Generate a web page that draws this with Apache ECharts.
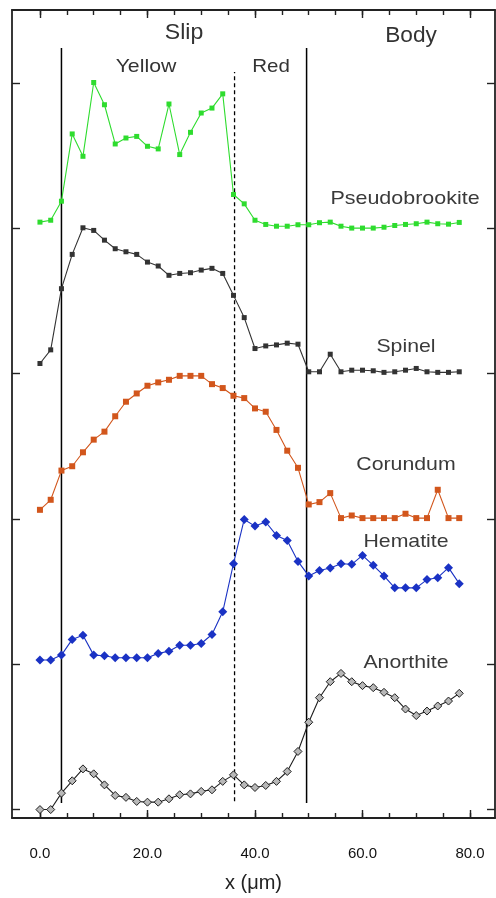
<!DOCTYPE html>
<html>
<head>
<meta charset="utf-8">
<script src="https://cdn.jsdelivr.net/npm/echarts@6/dist/echarts.min.js"></script>
<style>
html,body{margin:0;padding:0;background:#fff;}
#chart{width:496px;height:898px;}
</style>
</head>
<body>
<div id="chart"></div>
<script>
// position along the profile (µm)
const xPos = [0,2,4,6,8,10,12,14,16,18,20,22,24,26,28,30,32,34,36,38,40,42,44,46,48,50,52,54,56,58,60,62,64,66,68,70,72,74,76,78];

// offset (stacked) intensities, in units of y-tick spacing
const pseudobrookite = [4.043,4.056,4.187,4.650,4.496,5.004,4.851,4.581,4.622,4.633,4.565,4.547,4.856,4.508,4.661,4.794,4.828,4.926,4.233,4.169,4.056,4.027,4.015,4.015,4.025,4.025,4.039,4.043,4.015,4.002,4.002,4.002,4.008,4.020,4.027,4.032,4.043,4.032,4.029,4.041];
const spinel = [3.070,3.164,3.585,3.821,4.004,3.986,3.919,3.860,3.839,3.821,3.768,3.741,3.677,3.690,3.695,3.713,3.725,3.690,3.539,3.386,3.173,3.191,3.198,3.210,3.203,3.013,3.013,3.134,3.013,3.024,3.024,3.020,3.009,3.013,3.024,3.036,3.013,3.009,3.009,3.013];
const corundum = [2.063,2.132,2.333,2.363,2.459,2.546,2.601,2.707,2.807,2.864,2.917,2.940,2.958,2.985,2.985,2.985,2.928,2.901,2.848,2.832,2.761,2.738,2.613,2.470,2.352,2.100,2.116,2.178,2.006,2.024,2.006,2.006,2.006,2.006,2.036,2.006,2.006,2.201,2.006,2.006];
const hematite = [1.029,1.029,1.063,1.171,1.200,1.063,1.059,1.045,1.045,1.045,1.045,1.075,1.090,1.131,1.131,1.143,1.205,1.361,1.692,1.997,1.951,1.979,1.887,1.852,1.708,1.608,1.646,1.663,1.692,1.688,1.749,1.681,1.608,1.526,1.526,1.526,1.583,1.596,1.665,1.555];
const anorthite = [0.000,0.000,0.113,0.198,0.280,0.246,0.170,0.097,0.084,0.056,0.051,0.051,0.074,0.102,0.108,0.125,0.136,0.194,0.239,0.170,0.152,0.166,0.194,0.262,0.400,0.601,0.770,0.880,0.937,0.880,0.853,0.839,0.807,0.770,0.692,0.647,0.678,0.713,0.747,0.800];

// region boundaries (µm) and their vertical extent (y units)
const boundarySolid = [4, 49.6];
const boundaryDashed = [36.2];
const boundaryExtentSolid = [0.045, 5.242];
const boundaryExtentDashed = [0.058, 5.077];

// tick labels
const xMajorTicks = [0, 20, 40, 60, 80];
const xMinorTicks = [0,5,10,15,20,25,30,35,40,45,50,55,60,65,70,75,80];
const yTicks = [0, 1, 2, 3, 4, 5];
const xLabelText = ['0.0', '20.0', '40.0', '60.0', '80.0'];

const FONT = "'Liberation Sans', Arial, sans-serif";
const chart = echarts.init(document.getElementById('chart'), null, {renderer: 'canvas'});

function zip(xs, ys){ return xs.map((x, i) => [x, ys[i]]); }

const X_MIN = -5.2, X_MAX = 84.65, Y_MIN = -0.058, Y_MAX = 5.503;
const axisLineStyle = {color: '#222', width: 1.8};

function xAxisDef(pos, ticks, len, showLine, showLabel){
  return {
    type: 'value', position: pos, min: X_MIN, max: X_MAX,
    axisLine: {show: showLine, onZero: false, lineStyle: axisLineStyle},
    axisTick: {show: true, inside: true, length: len, customValues: ticks, lineStyle: {color: '#222', width: 1.4}},
    axisLabel: showLabel ? {
      show: true, customValues: xMajorTicks, margin: 28,
      formatter: v => xLabelText[xMajorTicks.indexOf(v)] || '',
      fontFamily: FONT, fontSize: 15, color: '#111'
    } : {show: false},
    splitLine: {show: false},
    name: showLabel ? 'x (\u03bcm)' : '',
    nameLocation: 'middle', nameGap: 55,
    nameTextStyle: {fontFamily: FONT, fontSize: 20, color: '#222'}
  };
}
function yAxisDef(pos){
  return {
    type: 'value', position: pos, min: Y_MIN, max: Y_MAX,
    axisLine: {show: true, onZero: false, lineStyle: axisLineStyle},
    axisTick: {show: true, inside: true, length: 8, customValues: yTicks, lineStyle: {color: '#222', width: 1.4}},
    axisLabel: {show: false},
    splitLine: {show: false}
  };
}

function dataSeries(name, vals, color, symbol, size, fill){
  return {
    name, type: 'line', xAxisIndex: 0, yAxisIndex: 0,
    data: zip(xPos, vals),
    symbol, symbolSize: size, showAllSymbol: true,
    lineStyle: {color, width: 1.1},
    itemStyle: {color: fill || color, borderColor: color, borderWidth: fill ? 1 : 0},
    animation: false, z: 5
  };
}

function boundarySeries(x, ext, dashed){
  return {
    type: 'line', xAxisIndex: 0, yAxisIndex: 0,
    data: [[x, ext[0]], [x, ext[1]]],
    symbol: 'none',
    lineStyle: {color: '#000', width: dashed ? 1.3 : 1.5, type: dashed ? [4, 3] : 'solid'},
    animation: false, z: 3, silent: true
  };
}

function txt(x, y, text, size, color, sx){
  return {type: 'text', x, y, scaleX: sx, style: {text, font: size + 'px ' + FONT, fill: color, align: 'center', verticalAlign: 'middle'}};
}

chart.setOption({
  backgroundColor: '#fff',
  animation: false,
  grid: {left: 12, right: 1, top: 10, bottom: 78, containLabel: false},
  xAxis: [
    xAxisDef('bottom', xMinorTicks, 5, true, true),
    xAxisDef('bottom', xMajorTicks, 8, false, false),
    xAxisDef('top', xMinorTicks, 5, true, false),
    xAxisDef('top', xMajorTicks, 8, false, false)
  ],
  yAxis: [yAxisDef('left'), yAxisDef('right')],
  series: [
    boundarySeries(boundarySolid[0], boundaryExtentSolid, false),
    boundarySeries(boundarySolid[1], boundaryExtentSolid, false),
    boundarySeries(boundaryDashed[0], boundaryExtentDashed, true),
    dataSeries('Pseudobrookite', pseudobrookite, '#2edc2e', 'rect', 5),
    dataSeries('Spinel', spinel, '#333333', 'rect', 5),
    dataSeries('Corundum', corundum, '#d2561c', 'rect', 6),
    dataSeries('Hematite', hematite, '#1a32c4', 'diamond', 9),
    dataSeries('Anorthite', anorthite, '#1e1e1e', 'diamond', 8, '#b8b8b8')
  ],
  graphic: {
    elements: [
      txt(184, 33, 'Slip', 22, '#333', 1.05),
      txt(411, 36, 'Body', 22, '#333', 1.03),
      txt(146, 67, 'Yellow', 19, '#333', 1.12),
      txt(271, 67, 'Red', 19, '#333', 1.08),
      txt(405, 199, 'Pseudobrookite', 19, '#3a3a3a', 1.13),
      txt(406, 347, 'Spinel', 19, '#3a3a3a', 1.12),
      txt(406, 465, 'Corundum', 19, '#3a3a3a', 1.12),
      txt(406, 542, 'Hematite', 19, '#3a3a3a', 1.12),
      txt(406, 663, 'Anorthite', 19, '#3a3a3a', 1.12)
    ]
  }
});
</script>
</body>
</html>
